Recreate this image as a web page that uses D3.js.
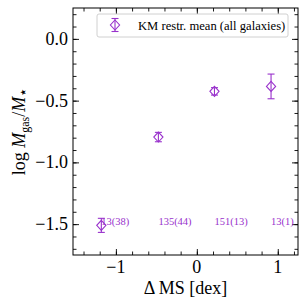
<!DOCTYPE html>
<html>
<head>
<meta charset="utf-8">
<script src="https://cdn.jsdelivr.net/npm/d3@7"></script>
<style>
  html, body { margin: 0; padding: 0; background: #fff; }
  svg { display: block; font-family: "Liberation Serif", "DejaVu Serif", serif; }
</style>
</head>
<body>
<div id="graph"></div>
<script>
WIDTH = 308;
HEIGHT = 308;

// data
var dms = [-1.18, -0.475, 0.218, 0.917];        // Δ MS bin positions
var logRatio = [-1.51, -0.795, -0.425, -0.385]; // KM restricted mean
var errs = [0.057, 0.038, 0.03, 0.1];           // error bar half-lengths
var counts = ["13(38)", "135(44)", "151(13)", "13(1)"];
var xTicks = [-1, 0, 1];
var yTicks = [-1.5, -1.0, -0.5, 0.0];

var COL = "#9932cc";
var pL = 73, pR = 298, pT = 8, pB = 255; // plot box

var svg = d3.select("#graph").append("svg").attr("width", WIDTH).attr("height", HEIGHT);

var x = d3.scaleLinear().domain([-1.53, 1.25]).range([pL, pR]);
var y = d3.scaleLinear().domain([-1.75, 0.25]).range([pB, pT]);

var fmt = function(d) { return d3.format(".1f")(d).replace("-", "\u2212"); };
var fmtX = function(d) { return String(d).replace("-", "\u2212"); };

// axes with inward ticks on all four sides
function ticksIn(g, axis) { g.call(axis); g.select(".domain").remove(); g.selectAll("line").attr("stroke", "#000"); }

var xMinor = d3.range(-1.4, 1.25, 0.2);
var yMinor = d3.range(-1.7, 0.25, 0.1);

svg.append("g").attr("transform", "translate(0," + pB + ")")
  .call(ticksIn, d3.axisTop(x).tickValues(xMinor).tickSize(3.5).tickFormat(""));
svg.append("g").attr("transform", "translate(0," + pB + ")")
  .call(ticksIn, d3.axisTop(x).tickValues(xTicks).tickSize(6).tickFormat(""));
svg.append("g").attr("transform", "translate(0," + pT + ")")
  .call(ticksIn, d3.axisBottom(x).tickValues(xMinor).tickSize(3.5).tickFormat(""));
svg.append("g").attr("transform", "translate(0," + pT + ")")
  .call(ticksIn, d3.axisBottom(x).tickValues(xTicks).tickSize(6).tickFormat(""));
svg.append("g").attr("transform", "translate(" + pL + ",0)")
  .call(ticksIn, d3.axisRight(y).tickValues(yMinor).tickSize(3.5).tickFormat(""));
svg.append("g").attr("transform", "translate(" + pL + ",0)")
  .call(ticksIn, d3.axisRight(y).tickValues(yTicks).tickSize(6).tickFormat(""));
svg.append("g").attr("transform", "translate(" + pR + ",0)")
  .call(ticksIn, d3.axisLeft(y).tickValues(yMinor).tickSize(3.5).tickFormat(""));
svg.append("g").attr("transform", "translate(" + pR + ",0)")
  .call(ticksIn, d3.axisLeft(y).tickValues(yTicks).tickSize(6).tickFormat(""));

svg.selectAll("g line").attr("stroke-width", 0.9);

// tick labels
svg.append("g").selectAll("text").data(xTicks).enter().append("text")
  .attr("x", function(d) { return x(d); })
  .attr("y", pB + 18)
  .attr("text-anchor", "middle")
  .attr("font-size", 18)
  .text(fmtX);

svg.append("g").selectAll("text").data(yTicks).enter().append("text")
  .attr("x", pL - 5)
  .attr("y", function(d) { return y(d) + 6; })
  .attr("text-anchor", "end")
  .attr("font-size", 18)
  .text(fmt);

// frame
svg.append("rect").attr("x", pL).attr("y", pT)
  .attr("width", pR - pL).attr("height", pB - pT)
  .attr("fill", "none").attr("stroke", "#000").attr("stroke-width", 1);

// axis labels
svg.append("text").attr("x", (pL + pR) / 2).attr("y", 294)
  .attr("text-anchor", "middle").attr("font-size", 18)
  .text("\u0394 MS [dex]");

var yl = svg.append("text")
  .attr("transform", "translate(25," + ((pT + pB) / 2) + ") rotate(-90)")
  .attr("text-anchor", "middle").attr("font-size", 18);
yl.append("tspan").text("log ");
yl.append("tspan").attr("font-style", "italic").text("M");
yl.append("tspan").attr("font-size", 12).attr("dy", 4).text("gas");
yl.append("tspan").attr("dy", -4).text("/");
yl.append("tspan").attr("font-style", "italic").text("M");
yl.append("tspan").attr("font-size", 15).attr("dy", 3).text("\u22c6");

// count annotations
svg.append("g").selectAll("text").data(counts).enter().append("text")
  .attr("x", function(d, i) { return x(dms[i]); })
  .attr("y", y(-1.5) + 1)
  .attr("font-size", 10.5)
  .attr("fill", COL)
  .text(function(d) { return d; });

// error bars and diamonds
var pts = svg.append("g").selectAll("g").data(dms).enter().append("g")
  .attr("stroke", COL).attr("stroke-width", 1.1).attr("fill", "none");

function errbar(g, cx, cy, lo, hi) {
  g.append("line").attr("x1", cx).attr("x2", cx).attr("y1", lo).attr("y2", hi);
  g.append("line").attr("x1", cx - 3.5).attr("x2", cx + 3.5).attr("y1", lo).attr("y2", lo);
  g.append("line").attr("x1", cx - 3.5).attr("x2", cx + 3.5).attr("y1", hi).attr("y2", hi);
  g.append("path").attr("d", "M" + cx + "," + (cy - 5) + "L" + (cx + 4.6) + "," + cy +
    "L" + cx + "," + (cy + 5) + "L" + (cx - 4.6) + "," + cy + "Z");
}

pts.each(function(d, i) {
  errbar(d3.select(this), x(d), y(logRatio[i]), y(logRatio[i] - errs[i]), y(logRatio[i] + errs[i]));
});

// legend
var lg = svg.append("g");
lg.append("rect").attr("x", 97).attr("y", 14).attr("width", 191).attr("height", 23)
  .attr("rx", 2).attr("fill", "#fff").attr("stroke", "#d0d0d0").attr("stroke-width", 1);
var lm = lg.append("g").attr("stroke", COL).attr("stroke-width", 1.1).attr("fill", "none");
errbar(lm, 115, 25, 31.5, 18.5);
lg.append("text").attr("x", 138).attr("y", 29.5).attr("font-size", 12.6).text("KM restr. mean (all galaxies)");
</script>
</body>
</html>
